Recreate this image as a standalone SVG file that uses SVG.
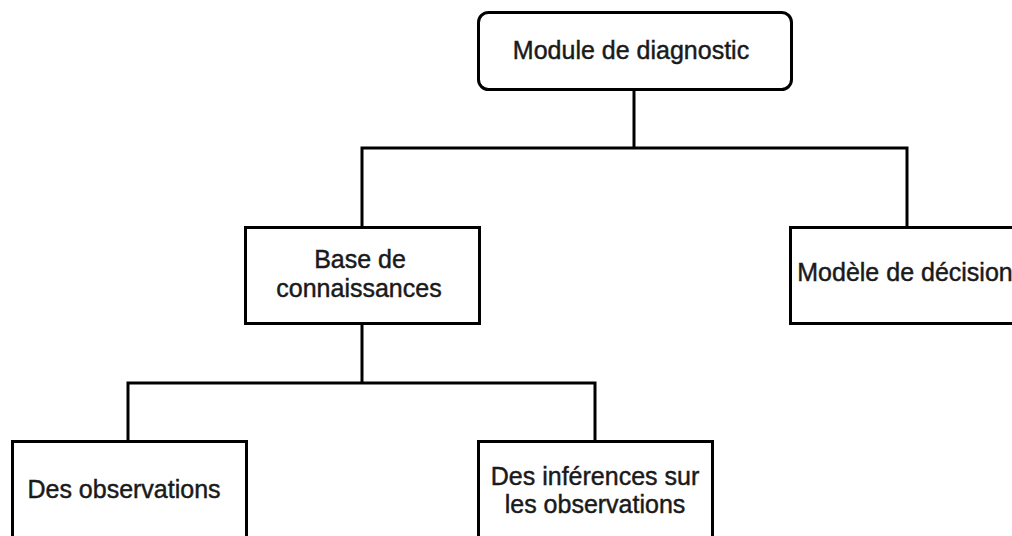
<svg xmlns="http://www.w3.org/2000/svg" width="1012" height="536" viewBox="0 0 1012 536">
  <style>
    .box { fill: #ffffff; stroke: #000000; stroke-width: 3; }
    .wire { fill: none; stroke: #000000; stroke-width: 3; stroke-linejoin: miter; }
    .label { font-family: "Liberation Sans", Arial, sans-serif; font-size: 25px; fill: #1a1a1a; stroke: #1a1a1a; stroke-width: 0.45; text-anchor: middle; }
  </style>
  <rect width="1012" height="536" fill="#ffffff"/>

  <!-- tree connectors -->
  <g id="connectors">
    <path class="wire" d="M634,90 V148"/>
    <path class="wire" d="M362,227 V148 H907 V227"/>
    <path class="wire" d="M362,324 V383"/>
    <path class="wire" d="M128,441 V383 H595 V441"/>
  </g>

  <g id="node-module">
    <rect class="box" x="478.5" y="12.5" width="313" height="77" rx="10" ry="10"/>
    <text class="label" x="631" y="59">Module de diagnostic</text>
  </g>

  <g id="node-base">
    <rect class="box" x="245.5" y="227.5" width="234" height="96"/>
    <text class="label" x="360" y="268">Base de</text>
    <text class="label" x="359" y="297">connaissances</text>
  </g>

  <g id="node-decision">
    <rect class="box" x="790.5" y="227.5" width="234" height="96"/>
    <text class="label" x="905" y="281">Modèle de décision</text>
  </g>

  <g id="node-observations">
    <rect class="box" x="12.5" y="441.5" width="234" height="100"/>
    <text class="label" x="124" y="498">Des observations</text>
  </g>

  <g id="node-inferences">
    <rect class="box" x="478.5" y="441.5" width="234" height="100"/>
    <text class="label" x="595" y="485">Des inférences sur</text>
    <text class="label" x="595" y="513">les observations</text>
  </g>
</svg>
